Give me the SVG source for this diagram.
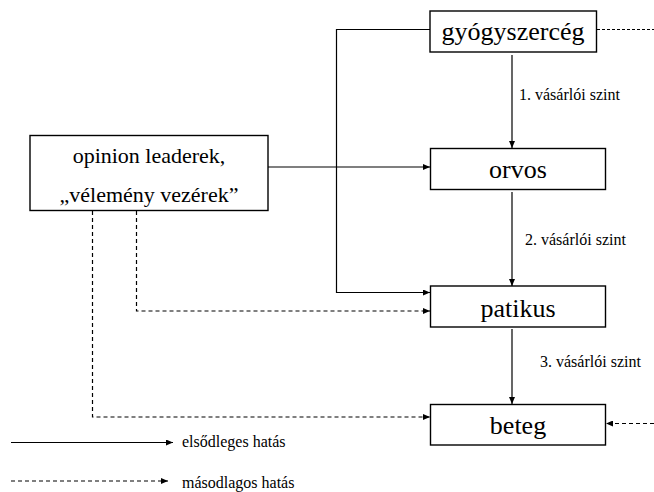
<svg xmlns="http://www.w3.org/2000/svg" width="654" height="492" viewBox="0 0 654 492">
<style>
.box{fill:#fff;stroke:#000;stroke-width:1.4}
text{font-family:'Liberation Serif','Times New Roman',Tinos,'Noto Serif','DejaVu Serif',serif;fill:#000}
.big{font-size:26px;text-anchor:middle}
.mid{font-size:22px;text-anchor:middle}
.lbl{font-size:16px}
.ln{fill:none;stroke:#000;stroke-width:1.2}
.ds{stroke-dasharray:4 3}
.dt{stroke-dasharray:3 2}
</style>
<defs>
<marker id="ah" markerWidth="7" markerHeight="6" refX="7" refY="3" orient="auto" markerUnits="userSpaceOnUse">
<path d="M0,0 L7,3 L0,6 Z" fill="#000"/>
</marker>
</defs>
<rect width="654" height="492" fill="#fff"/>
<g id="connectors">
<path class="ln" d="M430,29.5 H336.5 V292.5 H430" marker-end="url(#ah)"/>
<path class="ln dt" d="M597,29.5 H654"/>
<path class="ln" d="M512,55 V148" marker-end="url(#ah)"/>
<path class="ln" d="M268,167 H430" marker-end="url(#ah)"/>
<path class="ln" d="M512,192 V286" marker-end="url(#ah)"/>
<path class="ln" d="M512,329 V404" marker-end="url(#ah)"/>
<path class="ln ds" d="M136.5,211 V311 H430" marker-end="url(#ah)"/>
<path class="ln ds" d="M92.5,211 V417 H430" marker-end="url(#ah)"/>
<path class="ln ds" d="M654,423.5 H606" marker-end="url(#ah)"/>
<path class="ln" d="M11,442.5 H173" marker-end="url(#ah)"/>
<path class="ln ds" d="M11,481 H168" marker-end="url(#ah)"/>
</g>
<g id="gyogyszerceg">
<rect class="box" x="430" y="11" width="166.5" height="41"/>
<text class="big" x="513" y="40">gyógyszercég</text>
</g>
<g id="opinion">
<rect class="box" x="30" y="135.5" width="238" height="75"/>
<text class="mid" x="149" y="163">opinion leaderek,</text>
<text class="mid" x="149" y="201.5">„vélemény vezérek”</text>
</g>
<g id="orvos">
<rect class="box" x="430.5" y="148.5" width="175" height="41"/>
<text class="big" x="518" y="177.5">orvos</text>
</g>
<g id="patikus">
<rect class="box" x="430.5" y="286" width="175" height="41"/>
<text class="big" x="518" y="316.5">patikus</text>
</g>
<g id="beteg">
<rect class="box" x="430.5" y="404.5" width="175" height="40.5"/>
<text class="big" x="518" y="434">beteg</text>
</g>
<g id="labels">
<text class="lbl" x="519" y="100">1. vásárlói szint</text>
<text class="lbl" x="525" y="245">2. vásárlói szint</text>
<text class="lbl" x="540" y="367">3. vásárlói szint</text>
<text class="lbl" x="182" y="447">elsődleges hatás</text>
<text class="lbl" x="182" y="488">másodlagos hatás</text>
</g>
</svg>
